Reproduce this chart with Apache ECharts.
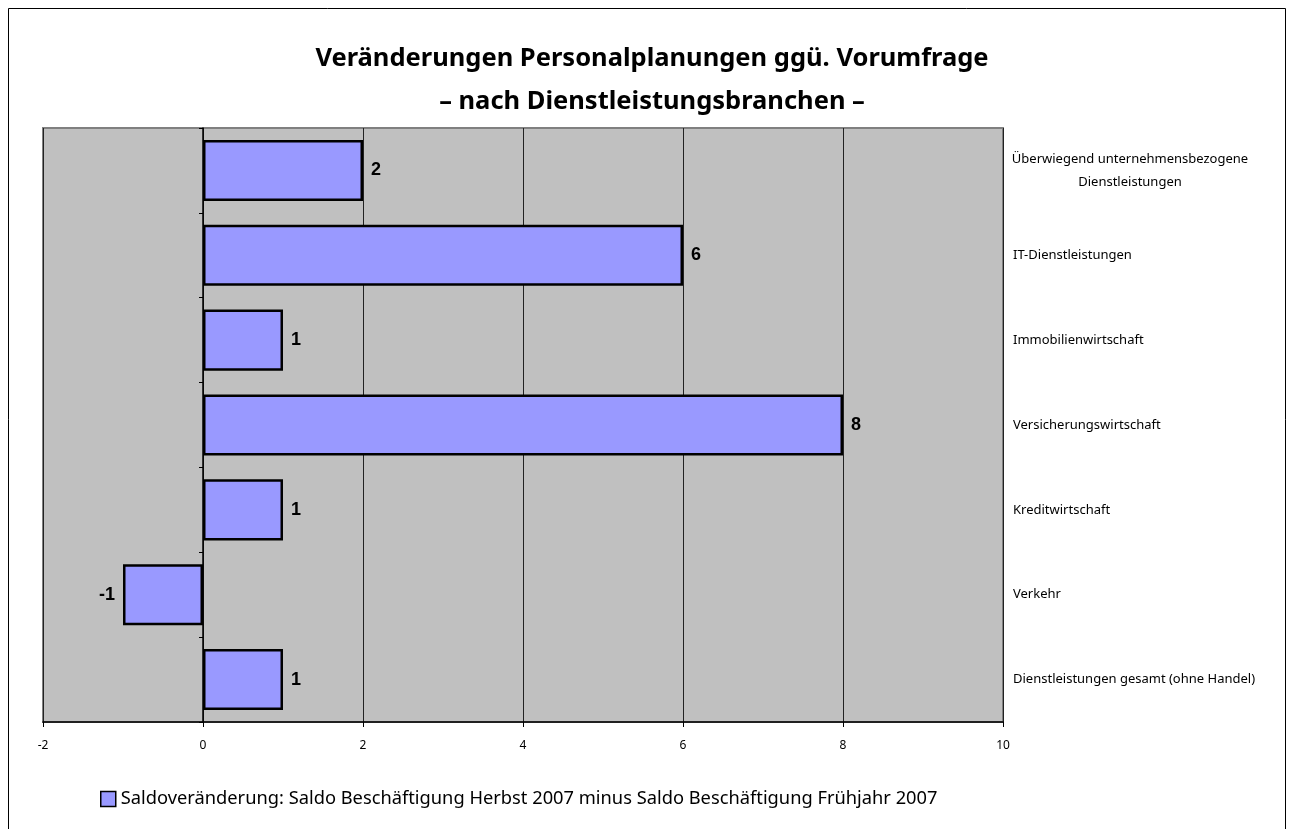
<!DOCTYPE html>
<html>
<head>
<meta charset="utf-8">
<script src="https://cdn.jsdelivr.net/npm/echarts@6/dist/echarts.min.js"></script>
<style>html,body{margin:0;padding:0;background:#fff;}#c{width:1293px;height:829px;}</style>
</head>
<body>
<div id="c"></div>
<script>
const categories = [
  "Dienstleistungen gesamt (ohne Handel)",
  "Verkehr",
  "Kreditwirtschaft",
  "Versicherungswirtschaft",
  "Immobilienwirtschaft",
  "IT-Dienstleistungen",
  "Überwiegend unternehmensbezogene\nDienstleistungen"
];
const values = [1, -1, 1, 8, 1, 6, 2];
const xTicks = { min: -2, max: 10, interval: 2 };
const seriesName = "Saldoveränderung: Saldo Beschäftigung Herbst 2007 minus Saldo Beschäftigung Frühjahr 2007";
const titleText = "Veränderungen Personalplanungen ggü. Vorumfrage\n– nach Dienstleistungsbranchen –";

const chart = echarts.init(document.getElementById('c'));
const FONT = '"Noto Sans", "DejaVu Sans", sans-serif';

chart.setOption({
  animation: false,
  backgroundColor: '#ffffff',
  title: {
    text: titleText,
    left: 647,
    top: 32,
    textAlign: 'center',
    textStyle: { fontFamily: FONT, fontWeight: 'bold', fontSize: 25.5, lineHeight: 43, color: '#000' }
  },
  graphic: [{
    type: 'rect',
    shape: { x: 8.5, y: 8.5, width: 1277, height: 900 },
    style: { fill: 'none', stroke: '#000', lineWidth: 1 },
    silent: true
  }],
  legend: {
    left: 95,
    top: 785,
    itemWidth: 15,
    itemHeight: 15,
    icon: 'rect',
    textStyle: { fontFamily: FONT, fontSize: 18.3, color: '#000' },
    data: [{ name: seriesName, itemStyle: { color: '#9999FF', borderColor: '#000', borderWidth: 1.5 } }]
  },
  grid: {
    left: 43, top: 128, right: 290, bottom: 107,
    show: true, backgroundColor: '#C0C0C0', borderColor: '#808080', borderWidth: 2,
    containLabel: false
  },
  xAxis: {
    type: 'value',
    min: xTicks.min, max: xTicks.max, interval: xTicks.interval,
    axisLine: { show: true, onZero: false, lineStyle: { color: '#000', width: 1.5 } },
    axisTick: { show: true, length: 5, lineStyle: { color: '#000' } },
    axisLabel: { fontFamily: FONT, fontSize: 12, color: '#000', margin: 18 },
    splitLine: { show: true, lineStyle: { color: '#222', width: 1 } }
  },
  yAxis: [{
    type: 'category',
    data: categories,
    position: 'right',
    axisLine: { show: false, onZero: false },
    axisTick: { show: false },
    axisLabel: {
      margin: 10,
      align: 'left',
      fontFamily: FONT, fontSize: 13, color: '#000', lineHeight: 23,
      formatter: function (v) {
        if (v.indexOf('\n') >= 0) {
          return v.split('\n').map(function (s) { return '{c|' + s + '}'; }).join('\n');
        }
        return v;
      },
      rich: { c: { width: 234, align: 'center', fontFamily: FONT, fontSize: 13, color: '#000', lineHeight: 23 } }
    },
    splitLine: { show: false }
  }, {
    type: 'category',
    data: categories,
    position: 'left',
    axisLine: { show: true, onZero: true, onZeroAxisIndex: 0, lineStyle: { color: '#000', width: 1.5 } },
    axisTick: { show: true, length: 4, lineStyle: { color: '#000' } },
    axisLabel: { show: false },
    splitLine: { show: false }
  }],
  series: [{
    type: 'bar',
    name: seriesName,
    yAxisIndex: 0,
    barWidth: '72%',
    itemStyle: { color: '#9999FF', borderColor: '#000', borderWidth: 2.5 },
    label: {
      show: true,
      distance: 8,
      fontFamily: '"Liberation Sans", Arial, sans-serif',
      fontWeight: 'bold',
      fontSize: 18,
      color: '#000'
    },
    data: values.map(function (v) {
      return { value: v, label: { position: v < 0 ? 'left' : 'right' } };
    })
  }]
});
</script>
</body>
</html>
